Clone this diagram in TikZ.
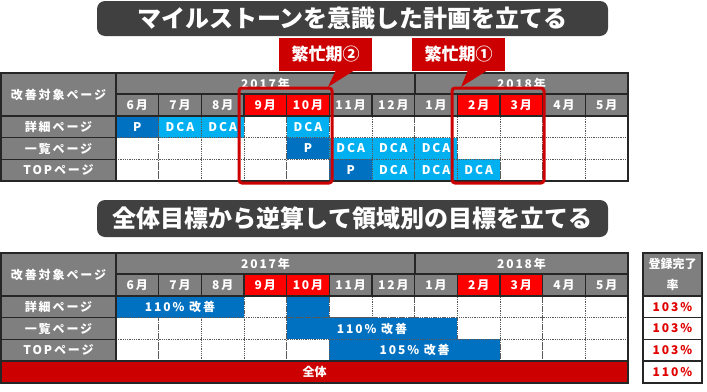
\documentclass[tikz,border=0pt]{standalone}
\usepackage{fontspec}
\usetikzlibrary{calc}
\setmainfont{Noto Sans CJK JP}
\newfontfamily\jp{Noto Sans CJK JP}
\newfontfamily\jpt{Noto Sans CJK JP}[LetterSpace=16]
\definecolor{hdrgray}{HTML}{7F7F7F}
\definecolor{lineblk}{HTML}{262626}
\definecolor{hdrred}{HTML}{FF0000}
\definecolor{pblue}{HTML}{0070C0}
\definecolor{dblue}{HTML}{00B0F0}
\definecolor{dkred}{HTML}{CC0000}
\definecolor{bannergray}{HTML}{404040}
\definecolor{dotgray}{HTML}{595959}
\definecolor{valred}{HTML}{E00000}
\newcommand\mkcell[7]{%
  \pgfmathsetmacro\mcw{(#4)-(#2)}%
  \pgfmathsetmacro\mch{(#5)-(#3)}%
  \pgfmathsetmacro\mcx{((#2)+(#4))/2}%
  \pgfmathsetmacro\mcy{((#3)+(#5))/2}%
  \node[#6, minimum width=\mcw pt, minimum height=\mch pt, inner sep=0pt, outer sep=0pt] (#1) at (\mcx,\mcy) {#7};}
\tikzset{
  tbltext/.style={font=\jpt\bfseries\fontsize{12}{13}\selectfont},
  hdr/.style={fill=hdrgray, draw=lineblk, line width=1.3pt, text=white, tbltext},
  redhdr/.style={hdr, fill=hdrred},
  dat/.style={fill=white, draw=dotgray, densely dotted, line width=0.8pt, text=white, tbltext},
  pcell/.style={dat, fill=pblue},
  dcell/.style={dat, fill=dblue},
  banner/.style={fill=bannergray, rounded corners=8pt, text=white, font=\jp\bfseries\fontsize{24}{26}\selectfont},
  callout/.style={fill=dkred, text=white, font=\jp\bfseries\fontsize{17}{20}\selectfont},
  frame/.style={draw=dkred, line width=3pt, rounded corners=3pt},
  valcell/.style={fill=white, draw=lineblk, line width=1.3pt, text=valred, tbltext},
  totcell/.style={fill=dkred, draw=lineblk, line width=1.3pt, text=white, font=\jp\bfseries\fontsize{12}{13}\selectfont}
}
\begin{document}
\begin{tikzpicture}[x=1pt,y=-1pt]
\useasboundingbox (0,0) rectangle (707,391);
\fill[white] (0,0) rectangle (707,391);

% ---------- Title 1 ----------
\mkcell{ban1}{97}{1}{608}{36}{banner}{マイルストーンを意識した計画を立てる}

% ---------- Top table data cells ----------
\foreach \r/\ya/\yb in {1/116/137.67,2/137.67/159.33,3/159.33/181} {
  \foreach \i in {0,...,11} {
    \mkcell{t\r-\i}{116+\i*42.667}{\ya}{116+(\i+1)*42.667}{\yb}{dat}{}
  }
}
% colored cells, top table
\foreach \r/\ya/\yb/\i/\s/\t in {
  1/116/137.67/0/pcell/P, 1/116/137.67/1/dcell/DCA, 1/116/137.67/2/dcell/DCA, 1/116/137.67/4/dcell/DCA,
  2/137.67/159.33/4/pcell/P, 2/137.67/159.33/5/dcell/DCA, 2/137.67/159.33/6/dcell/DCA, 2/137.67/159.33/7/dcell/DCA,
  3/159.33/181/5/pcell/P, 3/159.33/181/6/dcell/DCA, 3/159.33/181/7/dcell/DCA, 3/159.33/181/8/dcell/DCA} {
  \mkcell{tc\r-\i}{116+\i*42.667}{\ya}{116+(\i+1)*42.667}{\yb}{\s}{\t}
}
% headers, top table
\mkcell{tlh}{1}{73}{116}{116}{hdr}{改善対象ページ}
\mkcell{tl1}{1}{116}{116}{137.67}{hdr}{詳細ページ}
\mkcell{tl2}{1}{137.67}{116}{159.33}{hdr}{一覧ページ}
\mkcell{tl3}{1}{159.33}{116}{181}{hdr}{TOPページ}
\mkcell{ty1}{116}{73}{415}{94}{hdr}{2017年}
\mkcell{ty2}{415}{73}{628}{94}{hdr}{2018年}
\foreach \m/\s [count=\i from 0] in {6/hdr,7/hdr,8/hdr,9/redhdr,10/redhdr,11/hdr,12/hdr,1/hdr,2/redhdr,3/redhdr,4/hdr,5/hdr} {
  \mkcell{tm\i}{116+\i*42.667}{94}{116+(\i+1)*42.667}{116}{\s}{{\m}月}
}
\draw[lineblk, line width=1.5pt] (tlh.north west) rectangle (t3-11.south east);

% busy-period frames and callouts
\mkcell{fr2}{239}{88}{332}{183}{frame}{}
\mkcell{fr1}{452}{88}{544}{183}{frame}{}
\mkcell{co2}{279}{38}{372}{71}{callout}{繁忙期②}
\mkcell{co1}{412}{38}{505}{71}{callout}{繁忙期①}
\coordinate (tip2) at (328,87);
\coordinate (tip1) at (461,87);
\fill[dkred] ($(co2.south west)+(57,-1)$) -- (tip2) -- ($(co2.south west)+(76,-1)$) -- cycle;
\fill[dkred] ($(co1.south west)+(56,-1)$) -- (tip1) -- ($(co1.south west)+(76,-1)$) -- cycle;

% ---------- Title 2 ----------
\mkcell{ban2}{97}{200}{608}{237}{banner}{全体目標から逆算して領域別の目標を立てる}

% ---------- Bottom table ----------
\foreach \r/\ya/\yb in {1/296/317.67,2/317.67/339.33,3/339.33/361} {
  \foreach \i in {0,...,11} {
    \mkcell{b\r-\i}{116+\i*42.667}{\ya}{116+(\i+1)*42.667}{\yb}{dat}{}
  }
}
\mkcell{bc1a}{116}{296}{116+3*42.667}{317.67}{pcell}{110\% 改善}
\mkcell{bc1b}{116+4*42.667}{296}{116+5*42.667}{317.67}{pcell}{}
\mkcell{bc2}{116+4*42.667}{317.67}{116+8*42.667}{339.33}{pcell}{110\% 改善}
\mkcell{bc3}{116+5*42.667}{339.33}{116+9*42.667}{361}{pcell}{105\% 改善}

\mkcell{blh}{1}{253}{116}{296}{hdr}{改善対象ページ}
\mkcell{bl1}{1}{296}{116}{317.67}{hdr}{詳細ページ}
\mkcell{bl2}{1}{317.67}{116}{339.33}{hdr}{一覧ページ}
\mkcell{bl3}{1}{339.33}{116}{361}{hdr}{TOPページ}
\mkcell{by1}{116}{253}{415}{274}{hdr}{2017年}
\mkcell{by2}{415}{253}{628}{274}{hdr}{2018年}
\foreach \m/\s [count=\i from 0] in {6/hdr,7/hdr,8/hdr,9/redhdr,10/redhdr,11/hdr,12/hdr,1/hdr,2/redhdr,3/redhdr,4/hdr,5/hdr} {
  \mkcell{bm\i}{116+\i*42.667}{274}{116+(\i+1)*42.667}{296}{\s}{{\m}月}
}
\mkcell{btot}{1}{361}{628}{383}{totcell}{全体}
\draw[lineblk, line width=1.5pt] (blh.north west) rectangle (btot.south east);

% completion-rate column
\mkcell{rh}{643}{253}{702}{296}{hdr, align=center, font=\jp\bfseries\fontsize{12}{21}\selectfont}{登録完了\\率}
\mkcell{rv1}{643}{296}{702}{317.67}{valcell}{103\%}
\mkcell{rv2}{643}{317.67}{702}{339.33}{valcell}{103\%}
\mkcell{rv3}{643}{339.33}{702}{361}{valcell}{103\%}
\mkcell{rv4}{643}{361}{702}{383}{valcell}{110\%}
\end{tikzpicture}
\end{document}
